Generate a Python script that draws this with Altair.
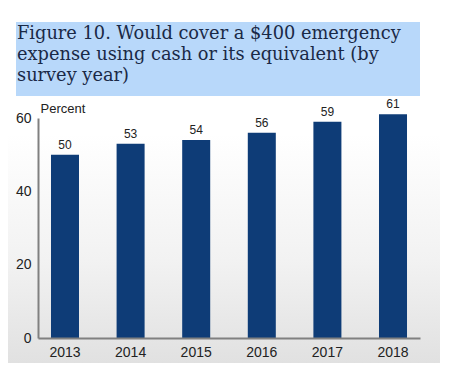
import altair as alt
import pandas as pd

years = ["2013", "2014", "2015", "2016", "2017", "2018"]
values = [50, 53, 54, 56, 59, 61]
y_ticks = [0, 20, 40, 60]
title_lines = [
    "Figure 10. Would cover a $400 emergency",
    "expense using cash or its equivalent (by",
    "survey year)",
]
axis_title = "Percent"

df = pd.DataFrame({"year": years, "value": values})

SANS = "Liberation Sans Narrow, Arial Narrow, Liberation Sans, sans-serif"
SERIF = "DejaVu Serif, Liberation Serif, serif"
W, H = 382, 220

one = alt.Data(values=[{"k": 1}])

bg = alt.Chart(one).mark_rect(
    color=alt.Gradient(
        gradient="linear", x1=0, x2=0, y1=0, y2=1,
        stops=[alt.GradientStop(color="#ffffff", offset=0),
               alt.GradientStop(color="#ffffff", offset=0.35),
               alt.GradientStop(color="#f2f2f2", offset=0.7),
               alt.GradientStop(color="#e0e0e0", offset=1)]
    )
).encode(x=alt.value(-30), x2=alt.value(W + 30), y=alt.value(-110), y2=alt.value(H + 30))

box = alt.Chart(one).mark_rect(color="#b8d8fa").encode(
    x=alt.value(-22), x2=alt.value(W), y=alt.value(-96), y2=alt.value(-22)
)

ttl = alt.Chart(one).mark_text(
    align="left", baseline="alphabetic", font=SERIF, fontSize=17.8,
    lineHeight=21, color="#1a2946"
).encode(x=alt.value(-21), y=alt.value(-79), text=alt.value(title_lines))

xenc = alt.X(
    "year:N",
    scale=alt.Scale(paddingInner=0.573, paddingOuter=0.198),
    axis=alt.Axis(title=None, labelAngle=0, ticks=False, domainColor="#808080",
                  domainWidth=2, labelPadding=7, labelFont=SANS, labelFontSize=14,
                  labelColor="#222222", zindex=1),
)
yenc = alt.Y(
    "value:Q",
    scale=alt.Scale(domain=[0, 60], nice=False),
    axis=alt.Axis(values=y_ticks, ticks=False, grid=False, domainColor="#808080",
                  domainWidth=2, labelPadding=7, labelFont=SANS, labelFontSize=14,
                  labelColor="#222222", title=axis_title, titleAngle=0,
                  titleAlign="left", titleBaseline="bottom", titleX=2, titleY=-3,
                  titleFont=SANS, titleFontSize=13, titleFontWeight="normal",
                  titleColor="#222222", zindex=1),
)

base = alt.Chart(df)
bars = base.mark_bar(color="#0e3c77").encode(x=xenc, y=yenc)
labels = base.mark_text(
    baseline="alphabetic", dy=-6, font=SANS, fontSize=12, color="#222222"
).encode(x=xenc, y=yenc, text="value:Q")

chart = alt.layer(bg, box, ttl, bars, labels).properties(
    width=W, height=H,
    autosize=alt.AutoSizeParams(type="none"),
    padding={"left": 30, "top": 110, "right": 20, "bottom": 25},
    background="white",
).configure_view(stroke=None)

chart.save("out.html", embed_options={"renderer": "svg", "actions": False})
